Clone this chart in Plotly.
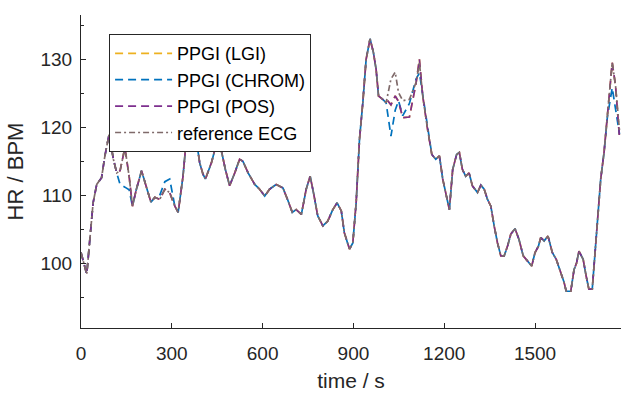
import plotly.graph_objects as go

# time axis (s)
t = [0, 19, 40, 52, 68, 79, 93, 107, 118, 129, 145, 159, 170, 183, 200, 217, 231, 244, 260, 277,
     293, 310, 321, 337, 348, 365, 381, 392, 403, 411, 431, 447, 464, 477, 491, 508, 524, 535, 552, 574,
     590, 607, 623, 645, 667, 684, 698, 711, 728, 744, 757, 768, 782, 799, 815, 832, 846, 860, 870, 887,
     898, 909, 920, 931, 942, 955, 966, 975, 983, 997, 1008, 1024, 1038, 1049, 1063, 1085, 1107, 1118, 1129, 1145,
     1159, 1172, 1184, 1195, 1217, 1228, 1241, 1250, 1260, 1271, 1282, 1293, 1310, 1321, 1332, 1343, 1354, 1365, 1376, 1387,
     1398, 1409, 1420, 1434, 1447, 1461, 1475, 1489, 1500, 1511, 1519, 1530, 1543, 1557, 1570, 1585, 1596, 1603, 1618, 1629,
     1637, 1645, 1659, 1669, 1678, 1689, 1700, 1717, 1728, 1739, 1755, 1766, 1779]

hr_ecg = [101.6, 98.4, 108.9, 111.6, 112.6, 115.8, 119.0, 115.3, 113.3, 113.6, 117.0, 112.8, 108.4, 110.9, 113.6, 110.9, 109.0, 109.7, 109.4, 110.9,
          110.4, 108.4, 107.5, 112.8, 118.2, 121.5, 118.2, 114.8, 113.1, 112.4, 114.8, 117.5, 116.5, 113.8, 111.4, 113.3, 115.3, 115.0, 113.3, 111.6,
          110.9, 109.9, 110.9, 111.6, 111.1, 109.2, 107.5, 107.9, 107.2, 110.9, 112.8, 110.4, 107.0, 105.5, 106.2, 107.9, 108.9, 107.7, 104.5, 102.1,
          103.0, 108.9, 118.2, 123.6, 130.0, 133.0, 131.0, 128.5, 124.6, 124.1, 123.6, 127.1, 128.1, 125.1, 123.9, 124.1, 126.6, 129.5, 124.6, 119.7,
          116.0, 115.3, 115.8, 112.4, 107.9, 113.8, 116.0, 116.3, 113.8, 112.8, 113.3, 111.4, 110.4, 111.5, 110.9, 109.4, 108.4, 105.5, 103.0, 101.1,
          101.1, 102.5, 104.3, 105.1, 103.5, 101.1, 100.3, 99.6, 101.6, 102.5, 103.8, 103.3, 104.0, 101.6, 100.6, 98.6, 97.2, 95.9, 95.9, 99.1,
          100.0, 101.8, 100.6, 98.1, 96.2, 96.2, 103.0, 112.4, 116.3, 122.2, 129.5, 126.1, 119.5]

hr_chrom = [101.6, 98.4, 108.9, 111.6, 112.6, 115.8, 119.0, 115.3, 113.3, 111.6, 111.2, 110.8, 108.4, 110.9, 113.6, 110.9, 109.0, 109.7, 110.0, 112.0,
            112.4, 108.4, 107.5, 112.8, 118.2, 121.5, 118.2, 114.8, 113.1, 112.4, 114.8, 117.5, 116.5, 113.8, 111.4, 113.3, 115.3, 115.0, 113.3, 111.6,
            110.9, 109.9, 110.9, 111.6, 111.1, 109.2, 107.5, 107.9, 107.2, 110.9, 112.8, 110.4, 107.0, 105.5, 106.2, 107.9, 108.9, 107.7, 104.5, 102.1,
            103.0, 108.9, 118.2, 123.6, 130.0, 133.0, 131.0, 128.5, 124.6, 124.1, 123.6, 118.7, 122.5, 123.9, 121.7, 123.5, 127.1, 128.0, 124.6, 119.7,
            116.0, 115.3, 115.8, 112.4, 107.9, 113.8, 116.0, 116.3, 113.8, 112.8, 113.3, 111.4, 110.4, 111.5, 110.9, 109.4, 108.4, 105.5, 103.0, 101.1,
            101.1, 102.5, 104.3, 105.1, 103.5, 101.1, 100.3, 99.6, 101.6, 102.5, 103.8, 103.3, 104.0, 101.6, 100.6, 98.6, 97.2, 95.9, 95.9, 99.1,
            100.0, 101.8, 100.6, 98.1, 96.2, 96.2, 103.0, 112.4, 116.3, 121.5, 125.8, 122.5, 119.0]

hr_pos = [101.6, 98.4, 108.9, 111.6, 112.6, 115.8, 119.0, 115.3, 113.3, 113.6, 117.0, 112.8, 108.4, 110.9, 113.6, 110.9, 109.0, 109.7, 109.4, 110.9,
          110.4, 108.4, 107.5, 112.8, 118.2, 121.5, 118.2, 114.8, 113.1, 112.4, 114.8, 117.5, 116.5, 113.8, 111.4, 113.3, 115.3, 115.0, 113.3, 111.6,
          110.9, 109.9, 110.9, 111.6, 111.1, 109.2, 107.5, 107.9, 107.2, 110.9, 112.8, 110.4, 107.0, 105.5, 106.2, 107.9, 108.9, 107.7, 104.5, 102.1,
          103.0, 108.9, 118.2, 123.6, 130.0, 133.0, 131.0, 128.5, 124.6, 124.1, 124.2, 123.3, 124.6, 123.8, 121.4, 121.5, 126.5, 130.0, 124.6, 119.7,
          116.0, 115.3, 115.8, 112.4, 107.9, 113.8, 116.0, 116.3, 113.8, 112.8, 113.3, 111.4, 110.4, 111.5, 110.9, 109.4, 108.4, 105.5, 103.0, 101.1,
          101.1, 102.5, 104.3, 105.1, 103.5, 101.1, 100.3, 99.6, 101.6, 102.5, 103.8, 103.3, 104.0, 101.6, 100.6, 98.6, 97.2, 95.9, 95.9, 99.1,
          100.0, 101.8, 100.6, 98.1, 96.2, 96.2, 103.0, 112.4, 116.3, 122.2, 129.5, 126.1, 118.5]

hr_lgi = [101.6, 98.4, 108.9, 111.6, 112.6, 115.8, 119.0, 115.3, 113.3, 113.6, 117.0, 112.8, 108.4, 110.9, 113.6, 110.9, 109.0, 109.7, 109.4, 110.9,
          110.4, 108.4, 107.5, 112.8, 118.2, 121.5, 118.2, 114.8, 113.1, 112.4, 114.8, 117.5, 116.5, 113.8, 111.4, 113.3, 115.3, 115.0, 113.3, 111.6,
          110.9, 109.9, 110.9, 111.6, 111.1, 109.2, 107.5, 107.9, 107.2, 110.9, 112.8, 110.4, 107.0, 105.5, 106.2, 107.9, 108.9, 107.7, 104.5, 102.1,
          103.0, 108.9, 118.2, 123.6, 130.0, 133.0, 131.0, 128.5, 124.6, 124.1, 124.2, 123.3, 124.6, 123.8, 121.4, 121.5, 126.5, 130.0, 124.6, 119.7,
          116.0, 115.3, 115.8, 112.4, 107.9, 113.8, 116.0, 116.3, 113.8, 112.8, 113.3, 111.4, 110.4, 111.5, 110.9, 109.4, 108.4, 105.5, 103.0, 101.1,
          101.1, 102.5, 104.3, 105.1, 103.5, 101.1, 100.3, 99.6, 101.6, 102.5, 103.8, 103.3, 104.0, 101.6, 100.6, 98.6, 97.2, 95.9, 95.9, 99.1,
          100.0, 101.8, 100.6, 98.1, 96.2, 96.2, 103.0, 112.4, 116.3, 122.2, 129.5, 126.1, 118.5]

names = ["PPGI (LGI)", "PPGI (CHROM)", "PPGI (POS)", "reference ECG"]
x_ticks = [0, 300, 600, 900, 1200, 1500]
y_ticks = [100, 110, 120, 130]

series = [hr_lgi, hr_chrom, hr_pos, hr_ecg]
colors = ["#EDB120", "#0072BD", "#7E2F8E", "#7f6a6a"]
dashes = ["8px,5px", "8px,5px", "8px,5px", "6px,3px,2px,3px"]

fig = go.Figure()
for name, y, c, d in zip(names, series, colors, dashes):
    fig.add_trace(go.Scatter(x=t, y=y, mode="lines", name=name,
                             line=dict(color=c, width=1.7, dash=d)))

axis_col = "#262626"
fig.update_layout(
    width=621, height=395,
    margin=dict(l=81, r=0, t=15, b=67, autoexpand=False),
    paper_bgcolor="white", plot_bgcolor="white",
    font=dict(family="Liberation Sans, Arial, sans-serif", size=19, color=axis_col),
    showlegend=True,
    legend=dict(x=0.052, y=0.939, xanchor="left", yanchor="top",
                bgcolor="white", bordercolor=axis_col, borderwidth=1,
                font=dict(size=18, color="black"), itemwidth=57,
                tracegroupgap=0),
    xaxis=dict(range=[0, 1784], tickvals=x_ticks, ticktext=[str(v) for v in x_ticks],
               showline=True, linecolor=axis_col, linewidth=1, mirror=False, automargin=False,
               ticks="inside", ticklen=5, tickcolor=axis_col, showgrid=False, zeroline=False,
               ticklabelstandoff=8,
               title=dict(text="time / s", font=dict(size=21), standoff=10)),
    yaxis=dict(range=[90.5, 136.5], tickvals=y_ticks, ticktext=[str(v) for v in y_ticks],
               showline=True, linecolor=axis_col, linewidth=1, mirror=False, automargin=False,
               ticks="inside", ticklen=5, tickcolor=axis_col, showgrid=False, zeroline=False,
               ticklabelstandoff=4,
               minor=dict(ticks="inside", ticklen=3, tickcolor=axis_col, tickvals=[95, 105, 115, 125, 135]),
               title=dict(text="HR / BPM", font=dict(size=22), standoff=10)),
)

fig.write_html("out.html", config={"displayModeBar": False},
               post_script="document.body.style.margin='0';document.body.style.overflow='hidden';")
